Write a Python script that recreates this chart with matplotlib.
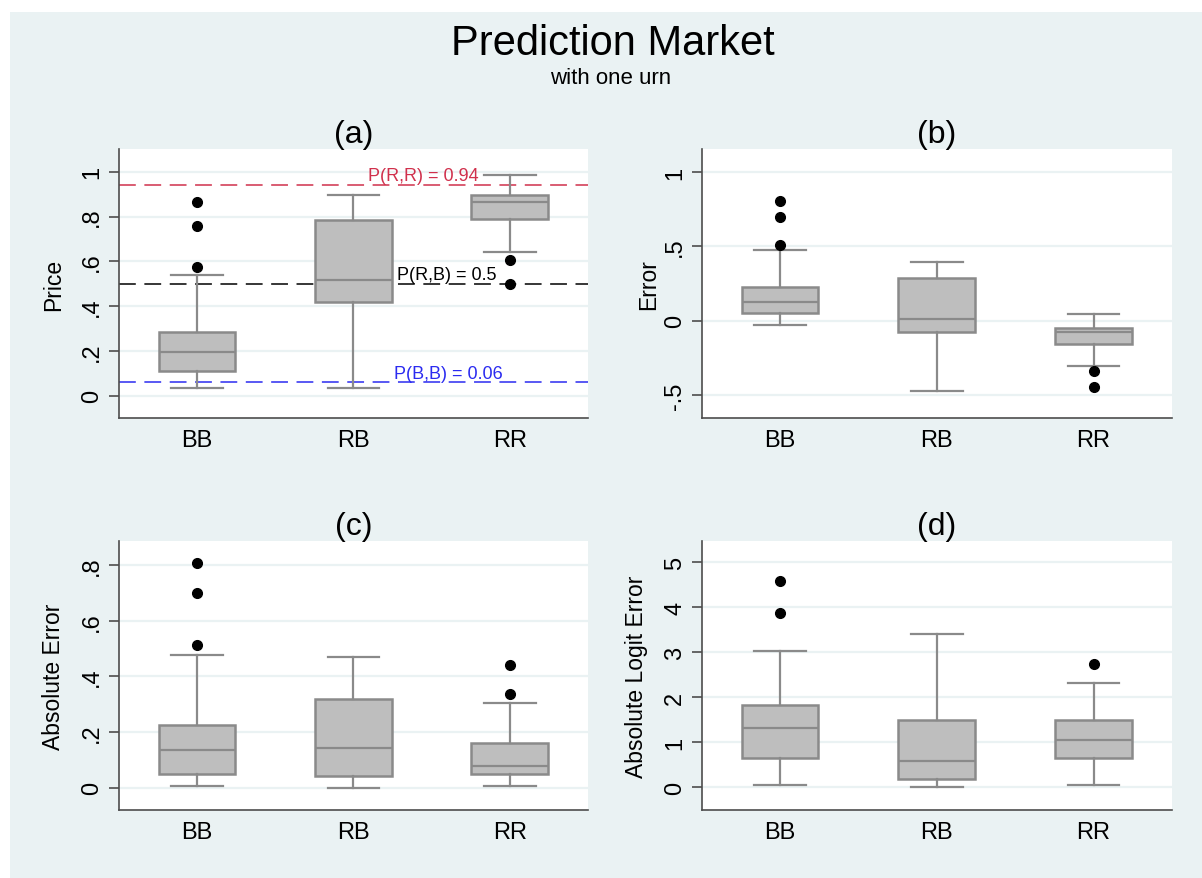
import matplotlib
matplotlib.use('Agg')
import matplotlib.pyplot as plt
from matplotlib.patches import Rectangle

plt.rcParams['font.family'] = ['Liberation Sans', 'DejaVu Sans']

#groups on the x axis
groups = ['BB', 'RB', 'RR']

#five number summaries: [whisker low, q1, median, q3, whisker high]
price_box = [[0.033, 0.113, 0.194, 0.284, 0.539],
             [0.033, 0.418, 0.519, 0.787, 0.897],
             [0.642, 0.791, 0.867, 0.897, 0.988]]
price_out = [[0.575, 0.757, 0.866], [], [0.607, 0.501]]

error_box = [[-0.031, 0.049, 0.128, 0.225, 0.476],
             [-0.470, -0.079, 0.013, 0.285, 0.393],
             [-0.303, -0.155, -0.076, -0.047, 0.043]]
error_out = [[0.512, 0.697, 0.807], [], [-0.337, -0.447]]

abserr_box = [[0.005, 0.050, 0.134, 0.224, 0.478],
              [0.000, 0.041, 0.143, 0.319, 0.469],
              [0.005, 0.050, 0.077, 0.159, 0.304]]
abserr_out = [[0.513, 0.699, 0.808], [], [0.337, 0.441]]

logit_box = [[0.05, 0.65, 1.32, 1.83, 3.03],
             [0.00, 0.185, 0.584, 1.50, 3.41],
             [0.05, 0.65, 1.06, 1.49, 2.32]]
logit_out = [[3.88, 4.59], [], [2.74]]

#reference probabilities in panel (a)
ref_values = [0.94, 0.5, 0.06]
ref_labels = ['P(R,R) = 0.94', 'P(R,B) = 0.5', 'P(B,B) = 0.06']

#y tick values and labels (Stata style, no leading zero)
price_ticks = [0, 0.2, 0.4, 0.6, 0.8, 1]
price_ticklabels = ['0', '.2', '.4', '.6', '.8', '1']
error_ticks = [-0.5, 0, 0.5, 1]
error_ticklabels = ['-.5', '0', '.5', '1']
abserr_ticks = [0, 0.2, 0.4, 0.6, 0.8]
abserr_ticklabels = ['0', '.2', '.4', '.6', '.8']
logit_ticks = [0, 1, 2, 3, 4, 5]
logit_ticklabels = ['0', '1', '2', '3', '4', '5']

BG = '#EAF2F3'
BOX_EDGE = '#8A8A8A'
BOX_FILL = '#BEBEBE'


def make_stats(box, out):
    stats = []
    for b, o in zip(box, out):
        stats.append({'whislo': b[0], 'q1': b[1], 'med': b[2], 'q3': b[3],
                      'whishi': b[4], 'fliers': o})
    return stats


def draw_panel(ax, box, out, ticks, ticklabels, ylim, title, ylabel, label_x):
    ax.set_facecolor('white')
    ax.set_xlim(0.5, 3.5)
    ax.set_ylim(*ylim)
    ax.set_yticks(ticks)
    ax.set_yticklabels(ticklabels)
    ax.yaxis.grid(True, color=BG, linewidth=1.6)
    ax.set_axisbelow(True)

    line = dict(color=BOX_EDGE, linewidth=1.6)
    ax.bxp(make_stats(box, out), positions=[1, 2, 3], widths=0.49,
           capwidths=0.33, patch_artist=True,
           boxprops=dict(facecolor=BOX_FILL, edgecolor=BOX_EDGE, linewidth=1.8),
           medianprops=line, whiskerprops=line, capprops=line,
           flierprops=dict(marker='o', markersize=7, markerfacecolor='black',
                           markeredgecolor='black'),
           manage_ticks=False, zorder=3)
    ax.set_xticks([1, 2, 3])
    ax.set_xticklabels(groups)

    for s in ['top', 'right']:
        ax.spines[s].set_visible(False)
    for s in ['left', 'bottom']:
        ax.spines[s].set_color('#4D4D4D')
        ax.spines[s].set_linewidth(1.2)

    ax.tick_params(axis='x', length=0, pad=8, labelsize=17)
    ax.tick_params(axis='y', length=7, width=1.2, color='#4D4D4D', pad=4,
                   labelsize=17, labelrotation=90)
    for lab in ax.get_yticklabels():
        lab.set_va('center')

    ax.set_title(title, fontsize=23, pad=4)
    ax.set_ylabel(ylabel, fontsize=16.5, va='center')
    ax.yaxis.set_label_coords(label_x, 0.5)


fig = plt.figure(figsize=(12.02, 8.79), dpi=100, facecolor='white')
fig.patches.append(Rectangle((10 / 1202, 0), 1 - 10 / 1202, 1 - 13 / 879,
                             transform=fig.transFigure, facecolor=BG,
                             edgecolor='none', zorder=-10))

ax_a = fig.add_axes([0.0987, 0.523, 0.3905, 0.3058])
ax_b = fig.add_axes([0.5837, 0.523, 0.3913, 0.3058])
ax_c = fig.add_axes([0.0987, 0.0774, 0.3905, 0.3063])
ax_d = fig.add_axes([0.5837, 0.0774, 0.3913, 0.3063])

draw_panel(ax_a, price_box, price_out, price_ticks, price_ticklabels,
           (-0.1, 1.1), '(a)', 'Price', -0.138)
draw_panel(ax_b, error_box, error_out, error_ticks, error_ticklabels,
           (-0.657, 1.153), '(b)', 'Error', -0.112)
draw_panel(ax_c, abserr_box, abserr_out, abserr_ticks, abserr_ticklabels,
           (-0.08, 0.887), '(c)', 'Absolute Error', -0.139)
draw_panel(ax_d, logit_box, logit_out, logit_ticks, logit_ticklabels,
           (-0.5, 5.48), '(d)', 'Absolute Logit Error', -0.139)

#reference lines with their labels
ref_colors = ['#D0304C', 'black', '#2B2BF0']
ref_text_x = [2.45, 2.60, 2.61]
for v, lab, c, tx in zip(ref_values, ref_labels, ref_colors, ref_text_x):
    ax_a.axhline(v, color=c, linewidth=1.1, dashes=(11, 5.6), zorder=2)
    ax_a.text(tx, v + 0.022, lab, color=c, fontsize=13, ha='center',
              va='baseline', zorder=4)

fig.text(0.510, 1 - 55 / 879, 'Prediction Market', fontsize=30,
         ha='center', va='baseline')
fig.text(0.508, 1 - 84 / 879, 'with one urn', fontsize=16,
         ha='center', va='baseline')

fig.savefig('out.png', dpi=100, facecolor=fig.get_facecolor())
